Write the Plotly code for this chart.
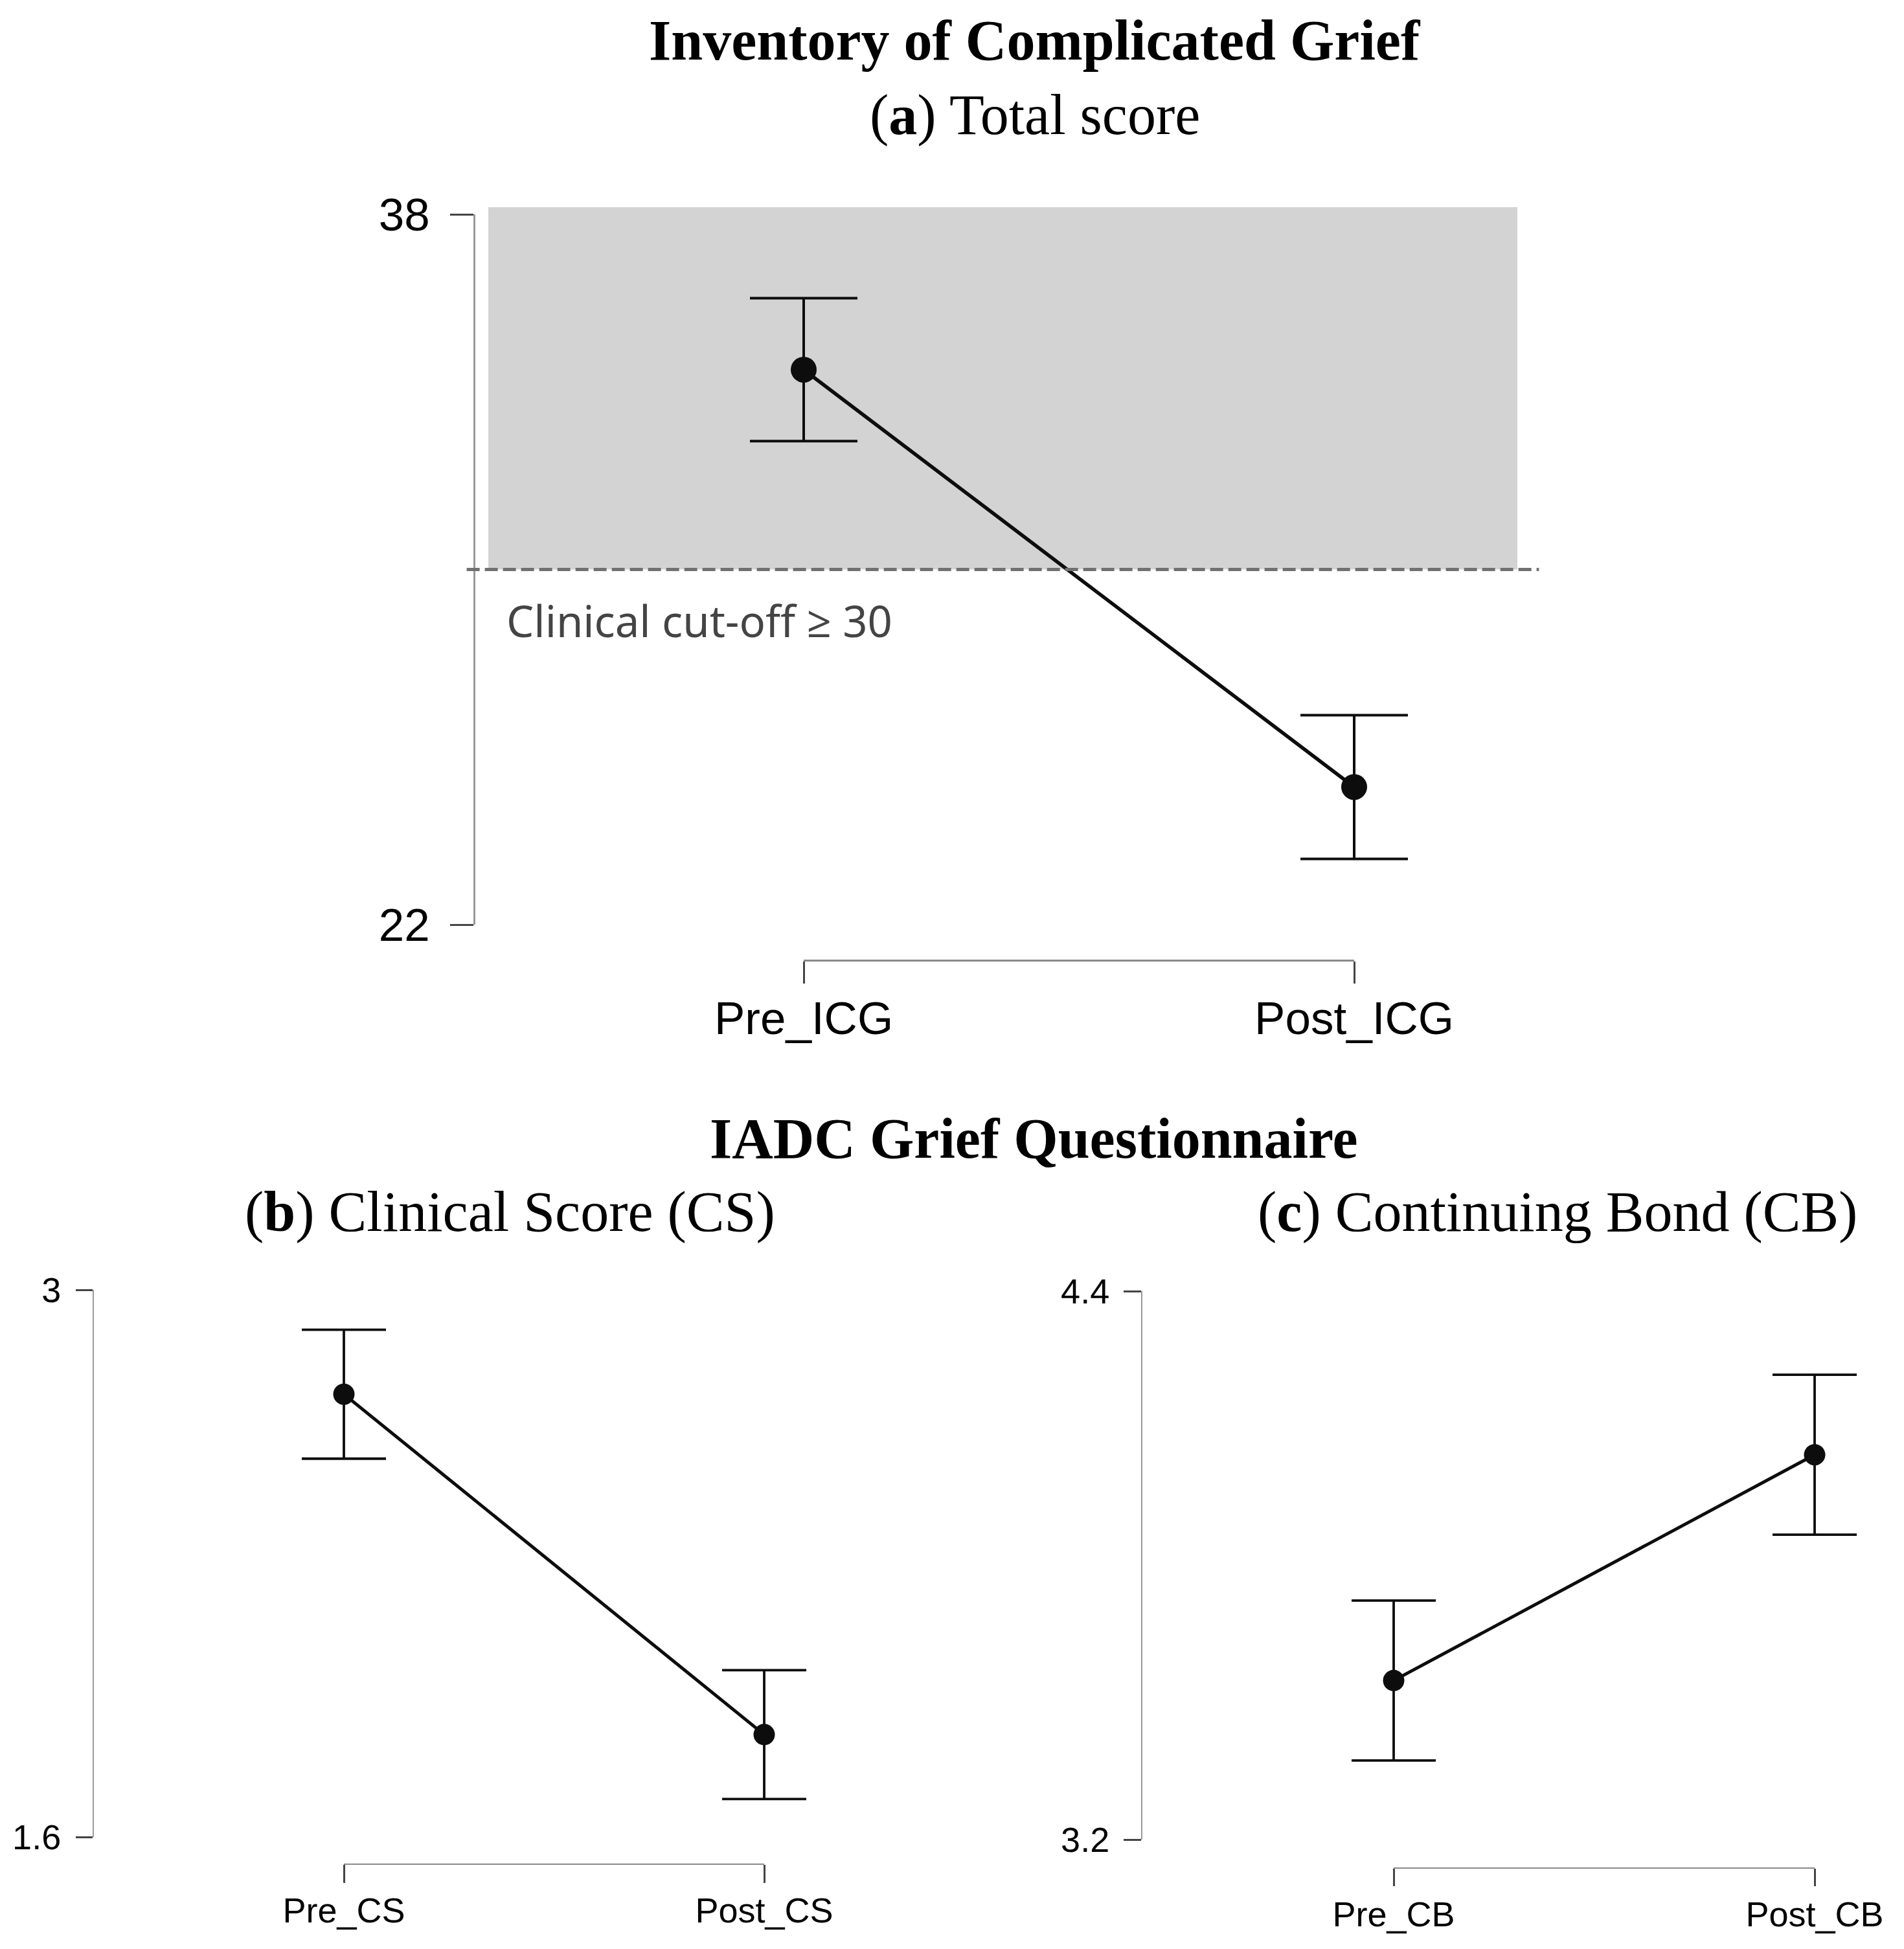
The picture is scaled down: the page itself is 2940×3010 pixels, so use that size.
import plotly.graph_objects as go

# target picture size and the page's default body margin
W, H = 2940, 3010
OFF = 8
PW, PH = W - 2 * OFF, H - 2 * OFF

# ---------------- data ----------------
icg_categories = ["Pre_ICG", "Post_ICG"]
icg_means = [34.5, 25.1]
icg_errors = [1.61, 1.62]
icg_ticks = [22, 38]
icg_cutoff = 30
icg_cutoff_label = "Clinical cut-off ≥ 30"

cs_categories = ["Pre_CS", "Post_CS"]
cs_means = [2.733, 1.862]
cs_errors = [0.165, 0.165]
cs_ticks = [1.6, 3]

cb_categories = ["Pre_CB", "Post_CB"]
cb_means = [3.548, 4.042]
cb_errors = [0.175, 0.175]
cb_ticks = [3.2, 4.4]

title_icg = "<b>Inventory of Complicated Grief</b>"
sub_a = "(<b>a</b>) Total score"
title_iadc = "<b>IADC Grief Questionnaire</b>"
sub_b = "(<b>b</b>) Clinical Score (CS)"
sub_c = "(<b>c</b>) Continuing Bond (CB)"


def fx(px):
    return (px - OFF) / PW


def fy(py):
    return 1 - (py - OFF) / PH


# ---------------- layout geometry (pixels in the picture) ----------------
panels = [
    dict(cats=icg_categories, means=icg_means, errs=icg_errors, ticks=icg_ticks,
         y_top=331, y_bot=1428, y_line_x=732, x_first=1241, x_last=2091,
         data_l=754, data_r=2343, bracket_y=1483,
         ytick_len=36, xtick_len=34, axis_w=3, tick_w=3, font=71,
         y_standoff=17, x_standoff=-7, marker=40, cap=83, lw=5.5, ew=4),
    dict(cats=cs_categories, means=cs_means, errs=cs_errors, ticks=cs_ticks,
         y_top=1992, y_bot=2837, y_line_x=144, x_first=531, x_last=1180,
         data_l=330, data_r=1380, bracket_y=2879,
         ytick_len=26, xtick_len=28, axis_w=2, tick_w=2.5, font=54,
         y_standoff=12, x_standoff=-4, marker=33, cap=65, lw=5, ew=3.8),
    dict(cats=cb_categories, means=cb_means, errs=cb_errors, ticks=cb_ticks,
         y_top=1994, y_bot=2841, y_line_x=1763, x_first=2152, x_last=2802,
         data_l=1950, data_r=2910, bracket_y=2885,
         ytick_len=27, xtick_len=27, axis_w=2, tick_w=2.5, font=54,
         y_standoff=11, x_standoff=-3, marker=33, cap=65, lw=5, ew=3.8),
]

SANS = "Liberation Sans, Arial, sans-serif"
SERIF = "Liberation Serif, Times New Roman, serif"
INK = "#0d0d0d"

fig = go.Figure()
layout = dict(width=PW, height=PH, autosize=False,
              margin=dict(l=0, r=0, t=0, b=0, pad=0, autoexpand=False),
              paper_bgcolor="white", plot_bgcolor="rgba(0,0,0,0)", showlegend=False)

for i, p in enumerate(panels):
    yid = "y" if i == 0 else f"y{i + 1}"
    xd_n, xk_n = 2 * i + 1, 2 * i + 2
    xd = "x" if xd_n == 1 else f"x{xd_n}"
    xk = f"x{xk_n}"
    ykey = "yaxis" if i == 0 else f"yaxis{i + 1}"
    xdkey = "xaxis" if xd_n == 1 else f"xaxis{xd_n}"
    xkkey = f"xaxis{xk_n}"

    k = (p["x_last"] - p["x_first"]) / (len(p["cats"]) - 1)
    xr = [(p["data_l"] - p["x_first"]) / k, (p["data_r"] - p["x_first"]) / k]

    layout[xdkey] = dict(type="category", range=xr,
                         domain=[fx(p["data_l"]), fx(p["data_r"])],
                         anchor=yid, visible=False, automargin=False)
    layout[xkkey] = dict(type="category", range=[0, len(p["cats"]) - 1],
                         domain=[fx(p["x_first"]), fx(p["x_last"])],
                         anchor="free", position=fy(p["bracket_y"]),
                         ticks="outside", ticklen=p["xtick_len"], tickwidth=p["tick_w"],
                         tickcolor="#444444", showline=True, linecolor="#8a8a8a",
                         linewidth=p["axis_w"], showgrid=False, zeroline=False,
                         automargin=False,
                         tickfont=dict(family=SANS, size=p["font"], color="black"),
                         ticklabelstandoff=p["x_standoff"])
    layout[ykey] = dict(range=[p["ticks"][0], p["ticks"][-1]],
                        domain=[fy(p["y_bot"]), fy(p["y_top"])],
                        anchor="free", position=fx(p["y_line_x"]),
                        tickmode="array", tickvals=p["ticks"],
                        ticktext=[f"{t:g}" for t in p["ticks"]],
                        ticks="outside", ticklen=p["ytick_len"], tickwidth=p["tick_w"],
                        tickcolor="#444444", showline=True, linecolor="#999999",
                        linewidth=p["axis_w"], showgrid=False, zeroline=False,
                        automargin=False,
                        tickfont=dict(family=SANS, size=p["font"], color="black"),
                        ticklabelstandoff=p["y_standoff"])

    fig.add_trace(go.Scatter(
        x=p["cats"], y=p["means"], xaxis=xd, yaxis=yid, mode="lines+markers",
        line=dict(color=INK, width=p["lw"]),
        marker=dict(size=p["marker"], color=INK),
        error_y=dict(type="data", array=p["errs"], visible=True, color=INK,
                     thickness=p["ew"], width=p["cap"]),
        hoverinfo="skip", cliponaxis=False))
    fig.add_trace(go.Scatter(
        x=p["cats"], y=p["means"], xaxis=xk, yaxis=yid, mode="markers",
        marker=dict(opacity=0, size=1), hoverinfo="skip"))

# clinical region in panel (a)
span = icg_ticks[-1] - icg_ticks[0]
fig.add_shape(type="rect", xref="x domain", yref="y domain",
              x0=0, x1=1, y0=(icg_cutoff - icg_ticks[0]) / span, y1=1.01,
              fillcolor="#d3d3d3", line_width=0, layer="below")
fig.add_shape(type="line", xref="x domain", yref="y",
              x0=-0.021, x1=1.021, y0=icg_cutoff, y1=icg_cutoff,
              line=dict(color="#707070", width=5, dash="20px,8px"))

TS = 88
annotations = [
    dict(text=icg_cutoff_label, xref="x domain", yref="y", x=0.0164, y=icg_cutoff,
         yshift=-78, xanchor="left", yanchor="middle", showarrow=False,
         font=dict(family="Noto Sans, Open Sans, sans-serif", size=67, color="#444444")),
    dict(text=title_icg, xref="paper", yref="paper", x=fx(1598), y=fy(62),
         xanchor="center", yanchor="middle", showarrow=False,
         font=dict(family=SERIF, size=TS, color="black")),
    dict(text=sub_a, xref="paper", yref="paper", x=fx(1598), y=fy(178),
         xanchor="center", yanchor="middle", showarrow=False,
         font=dict(family=SERIF, size=TS, color="black")),
    dict(text=title_iadc, xref="paper", yref="paper", x=fx(1596), y=fy(1758),
         xanchor="center", yanchor="middle", showarrow=False,
         font=dict(family=SERIF, size=TS, color="black")),
    dict(text=sub_b, xref="paper", yref="paper", x=fx(787), y=fy(1871),
         xanchor="center", yanchor="middle", showarrow=False,
         font=dict(family=SERIF, size=TS, color="black")),
    dict(text=sub_c, xref="paper", yref="paper", x=fx(2405), y=fy(1871),
         xanchor="center", yanchor="middle", showarrow=False,
         font=dict(family=SERIF, size=TS, color="black")),
]
layout["annotations"] = annotations

fig.update_layout(**layout)
fig.write_html("out.html")
